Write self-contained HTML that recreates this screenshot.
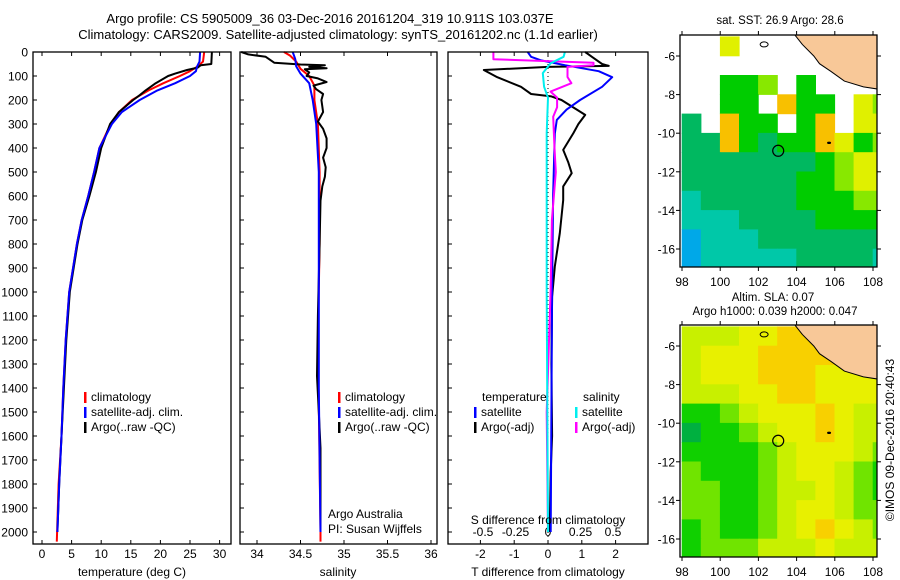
<!DOCTYPE html>
<html><head><meta charset="utf-8"><style>
html,body{margin:0;padding:0;background:#fff;}
svg{display:block;font-family:"Liberation Sans",Arial,sans-serif;}
</style></head><body>
<svg id="fig" width="900" height="580" viewBox="0 0 900 580">
<text x="330" y="23" font-size="13" text-anchor="middle">Argo profile: CS 5905009_36 03-Dec-2016 20161204_319 10.911S 103.037E</text>
<text x="338" y="39" font-size="13" text-anchor="middle">Climatology: CARS2009. Satellite-adjusted climatology: synTS_20161202.nc (1.1d earlier)</text>
<text x="780" y="24" font-size="11.5" text-anchor="middle">sat. SST: 26.9 Argo: 28.6</text>
<text x="773" y="301" font-size="11.5" text-anchor="middle">Altim. SLA: 0.07</text>
<text x="775" y="315" font-size="11.5" text-anchor="middle">Argo h1000: 0.039 h2000: 0.047</text>
<text transform="translate(894,440) rotate(-90)" font-size="12" text-anchor="middle">©IMOS 09-Dec-2016 20:40:43</text>
</svg>
<script>
// ---- profile data (depth in m) ----
const tempArgoD = [0,50,55,65,75,90,100,130,160,180,200,250,300,400,500,600,700,800,1000,1200,1400,1600,1800,2000];
const tempArgoV = [28.7,28.6,26.8,26.3,24.5,22.5,21.3,19.2,17.5,16.5,15.4,13,11.5,10.0,9.1,8.0,6.8,6.0,4.7,4.1,3.7,3.3,2.9,2.6];
const tempClimD = [0,40,60,80,100,130,160,200,250,300,400,500,600,700,800,1000,1200,1400,1600,1800,2040];
const tempClimV = [27.4,27.2,26.3,25,23.3,20.5,18,15.2,13,11.6,9.7,8.8,7.8,6.7,5.9,4.6,4.0,3.6,3.3,2.8,2.5];
const tempSatD = [0,40,60,80,100,130,160,200,250,300,400,500,600,700,800,1000,1200,1400,1600,1800,2000];
const tempSatV = [26.7,26.6,26.2,26,25,22.5,19.5,16.5,13.5,11.8,9.7,8.8,7.8,6.7,5.9,4.6,4.0,3.6,3.3,2.9,2.6];
const salArgoD = [0,10,20,45,52,55,62,68,72,85,100,110,125,140,155,175,200,250,290,320,360,400,440,480,520,560,620,800,1100,1350,1500,1650,1750,2000];
const salArgoV = [33.82,33.9,34.1,34.2,34.5,34.78,34.6,34.8,34.55,34.6,34.57,34.7,34.8,34.65,34.68,34.76,34.74,34.76,34.7,34.76,34.8,34.8,34.76,34.79,34.78,34.75,34.73,34.72,34.7,34.69,34.71,34.73,34.73,34.73];
const salClimD = [0,15,40,70,100,140,200,300,500,800,1200,2000,2040];
const salClimV = [34.31,34.38,34.45,34.5,34.6,34.66,34.66,34.7,34.72,34.72,34.7,34.73,34.73];
const salSatD = [0,30,60,90,130,200,300,500,1000,1400,2000];
const salSatV = [34.41,34.44,34.45,34.5,34.6,34.64,34.68,34.71,34.71,34.71,34.73];
const tdArgoD = [0,20,50,58,62,75,105,145,175,185,200,262,300,338,408,460,505,560,617,755,894,1020,1300,1600,1750,2000];
const tdArgoV = [1.1,1.3,1.6,1.8,0.0,-1.9,-1.5,-0.8,-0.5,0.1,0.4,1.1,0.9,0.75,0.45,0.6,0.7,0.45,0.45,0.35,0.2,0.12,0.1,0.12,0.08,0.05];
const tdSatD = [0,20,35,55,80,105,145,200,240,283,340,600,1000,2000];
const tdSatV = [-0.6,-0.5,-0.2,0.5,1.5,1.9,1.6,0.95,0.55,0.26,0.2,0.15,0.12,0.08];
const sdArgoD = [0,30,45,55,62,104,130,165,190,230,270,400,500,700,1000,1500,2000];
const sdArgoV = [-0.42,-0.42,0.35,0.35,0.15,0.15,0.18,0.02,0.07,0.07,0.04,0.05,0.06,0.03,0.02,-0.01,0.0];
const sdSatD = [0,20,47,88,145,190,338,1000,2000];
const sdSatV = [0.13,0.12,0.02,-0.04,-0.03,0,-0.01,-0.01,0];
const depthTicks = [0,100,200,300,400,500,600,700,800,900,1000,1100,1200,1300,1400,1500,1600,1700,1800,1900,2000];
const tempTicks = [0,5,10,15,20,25,30];
const salTicks = [34,34.5,35,35.5,36];
const tdTicks = [-2,-1,0,1,2];
const sdTicks = [-0.5,-0.25,0,0.25,0.5];
// ---- map data: 1-degree cells, rows lat -5..-17, cols lon 98..109 ----
const sstGrid = [
[null,null,5,null,null,null,null,null,7,null,null],
[null,null,null,null,null,null,null,null,null,null,null],
[null,null,3,3,4,null,3,null,null,null,null],
[null,null,3,3,null,6,3,3,null,5,4],
[2,null,6,3,3,null,3,6,null,5,5],
[2,2,6,3,2,3,3,6,5,3,4],
[2,2,2,2,2,2,2,3,4,5,5],
[2,2,2,2,2,2,3,3,4,5,5],
[1,2,2,2,2,2,3,3,3,4,4],
[1,1,1,2,2,2,2,3,3,3,3],
[0,1,1,1,2,2,2,2,2,2,2],
[0,1,1,1,1,1,2,2,2,2,1]];
const slaGrid = [
[3,3,3,4,4,5,5,4,2,2,2],
[3,4,4,4,5,5,5,5,4,3,3],
[3,4,4,4,5,5,5,4,4,4,4],
[3,3,3,4,4,5,5,4,4,4,4],
[1,1,2,3,4,4,4,5,4,3,3],
[0,1,1,2,3,4,4,5,4,3,3],
[1,1,1,1,2,3,4,4,4,3,2],
[2,1,1,1,2,3,4,4,3,2,1],
[2,2,1,1,2,3,3,4,3,2,1],
[2,2,1,1,2,3,4,4,3,2,2],
[1,2,1,1,2,3,4,5,4,3,2],
[1,2,2,2,3,3,3,4,3,3,3]];
const lonTicks = [98,100,102,104,106,108];
const latTicks = [-6,-8,-10,-12,-14,-16];
const argoLon = 103.037, argoLat = -10.911;

const NS='http://www.w3.org/2000/svg';
const svg=document.getElementById('fig');
function mk(tag,attrs,parent){const e=document.createElementNS(NS,tag);for(const k in attrs)e.setAttribute(k,attrs[k]);(parent||svg).appendChild(e);return e;}
const yD = d => 52 + d*0.24;
const PT=[33,231], PS=[240,437], PD=[448,648], TOP=52, BOT=544;
const xT = v => 42 + v*5.92;
const xS = v => 257 + (v-34)*87;
const xTD = v => 548 + v*33.8;
const xSD = v => 548 + v*130;

function line(D,V,xf,color,name,w){
  const pts=D.map((d,i)=>xf(V[i]).toFixed(1)+','+yD(d).toFixed(1)).join(' ');
  const p=mk('polyline',{points:pts,fill:'none',stroke:color,'stroke-width':w||2,'stroke-linejoin':'round'});
  
  
}
function frame(P,name){
  const r=mk('rect',{x:P[0],y:TOP,width:P[1]-P[0],height:BOT-TOP,fill:'none',stroke:'#000','stroke-width':1.3});
  
  
}
function txt(x,y,s,size,anchor,name){
  const t=mk('text',{x:x,y:y,'font-size':size,'text-anchor':anchor||'start'});t.textContent=s;
  
  
  return t;
}
// depth axis labels
depthTicks.forEach(d=>{
  txt(28,yD(d)+4.5,String(d),12,'end','depth-tick-label');
  [PT,PS,PD].forEach(P=>{mk('line',{x1:P[0],x2:P[0]+4,y1:yD(d),y2:yD(d),stroke:'#000'});});
});
function xticks(P,ticks,xf,labelY,name){
  ticks.forEach(v=>{
    const x=xf(v);
    mk('line',{x1:x,x2:x,y1:BOT,y2:BOT-4,stroke:'#000'});
    mk('line',{x1:x,x2:x,y1:TOP,y2:TOP+4,stroke:'#000'});
    if(labelY) txt(x,labelY,String(v),12,'middle',name);
  });
}
xticks(PT,tempTicks,xT,558,'temperature-tick-label');
xticks(PS,salTicks,xS,558,'salinity-tick-label');
xticks(PD,tdTicks,xTD,558,'tdiff-tick-label');
sdTicks.forEach(v=>txt(xSD(v),536,String(v),12,'middle','sdiff-tick-label'));
// zero line diff
const z=mk('line',{x1:548,x2:548,y1:TOP,y2:BOT,stroke:'#000','stroke-dasharray':'1,3'});


// series
line(tempClimD,tempClimV,xT,'#f00','temp-climatology-line');
line(tempArgoD,tempArgoV,xT,'#000','temp-argo-line');
line(tempSatD,tempSatV,xT,'#00f','temp-satellite-line');
line(salClimD,salClimV,xS,'#f00','sal-climatology-line');
line(salArgoD,salArgoV,xS,'#000','sal-argo-line');
line(salSatD,salSatV,xS,'#00f','sal-satellite-line');
line(tdArgoD,tdArgoV,xTD,'#000','tdiff-argo-line');
line(tdSatD,tdSatV,xTD,'#00f','tdiff-satellite-line');
line(sdArgoD,sdArgoV,xSD,'#f0f','sdiff-argo-line');
line(sdSatD,sdSatV,xSD,'#0ee','sdiff-satellite-line');
frame(PT,'temperature-panel');frame(PS,'salinity-panel');frame(PD,'difference-panel');
// axis titles
txt(132,576,'temperature (deg C)',12,'middle','temperature-axis-title');
txt(338,576,'salinity',12,'middle','salinity-axis-title');
txt(548,576,'T difference from climatology',12,'middle','tdiff-axis-title');
txt(548,524,'S difference from climatology',12,'middle','sdiff-axis-title');
txt(328,518,'Argo Australia',12,'start','argo-australia-note');
txt(328,533,'PI: Susan Wijffels',12,'start','pi-note');
// legends
function leg(x,y,color,label,name){
  const m=mk('rect',{x:x,y:y-9,width:2.5,height:11,fill:color});
  
  
  txt(x+7,y,label,12,'start',name);
}
[[PT,84],[PS,338]].forEach(([P,x],k)=>{
  leg(x,401,'#f00','climatology','legend-climatology');
  leg(x,416,'#00f','satellite-adj. clim.','legend-satellite-adj');
  leg(x,431,'#000','Argo(..raw -QC)','legend-argo');
});
txt(482,401,'temperature',12,'start','legend-temperature-header');
txt(583,401,'salinity',12,'start','legend-salinity-header');
leg(474,416,'#00f','satellite','legend-tdiff-satellite');
leg(474,431,'#000','Argo(-adj)','legend-tdiff-argo');
leg(575,416,'#0ee','satellite','legend-sdiff-satellite');
leg(575,431,'#f0f','Argo(-adj)','legend-sdiff-argo');

// ---- maps ----
const sstColors=['#00a8e8','#00c8a8','#00b860','#00cc00','#88e800','#e0f000','#f8c000','#c85000'];
const slaColors=['#00b040','#10d000','#70e400','#c8f000','#e8f000','#f8d000'];
const MX=[680,877];
const xL = lon => 682 + (lon-98)*19.1;
function drawMap(top,grid,colors,name){
  const yl = lat => top+21 + (-6-lat)*19.3;
  const g=mk('g',{});
  
  
  const cid='clip'+top;
  const cp=mk('clipPath',{id:cid},g);mk('rect',{x:MX[0],y:top,width:MX[1]-MX[0],height:232},cp);
  const cg=mk('g',{'clip-path':'url(#'+cid+')'},g);
  grid.forEach((row,i)=>row.forEach((v,j)=>{
    if(v===null)return;
    const c=mk('rect',{x:xL(98+j)-0.3,y:yl(-5-i)-0.3,width:19.7,height:19.9,fill:colors[v]},cg);
    
    
  }));
  const land=[[103.9,-4.5],[108.5,-4.5],[108.5,-7.75],[107.5,-7.6],[106.5,-7.3],[105.8,-6.8],[105.2,-6.4],[104.9,-6.0],[104.3,-5.4],[103.9,-4.9]];
  const lp=mk('polygon',{points:land.map(p=>xL(p[0])+','+yl(p[1])).join(' '),fill:'#f8c898',stroke:'#000','stroke-width':1},cg);
  
  
  mk('ellipse',{cx:xL(102.3),cy:yl(-5.4),rx:4,ry:2.5,fill:'none',stroke:'#000'},cg);
  mk('ellipse',{cx:xL(105.7),cy:yl(-10.5),rx:2,ry:1.2,fill:'#000'},cg);
  const mkr=mk('circle',{cx:xL(argoLon),cy:yl(argoLat),r:5.5,fill:'none',stroke:'#000','stroke-width':1.2},g);
  
  
  mk('rect',{x:MX[0],y:top,width:MX[1]-MX[0],height:232,fill:'none',stroke:'#000','stroke-width':1.3},g);
  lonTicks.forEach(l=>{
    mk('line',{x1:xL(l),x2:xL(l),y1:top+232,y2:top+236,stroke:'#000'},g);
    mk('line',{x1:xL(l),x2:xL(l),y1:top,y2:top-4,stroke:'#000'},g);
    txt(xL(l),top+251,String(l),12,'middle','map-lon-label');
  });
  latTicks.forEach(l=>{
    mk('line',{x1:MX[0],x2:MX[0]-4,y1:yl(l),y2:yl(l),stroke:'#000'},g);
    mk('line',{x1:MX[1],x2:MX[1]+4,y1:yl(l),y2:yl(l),stroke:'#000'},g);
    txt(675,yl(l)+4.5,String(l),12,'end','map-lat-label');
  });
}
drawMap(35,sstGrid,sstColors,'sst-map');
drawMap(325,slaGrid,slaColors,'sla-map');
</script>
</body></html>
